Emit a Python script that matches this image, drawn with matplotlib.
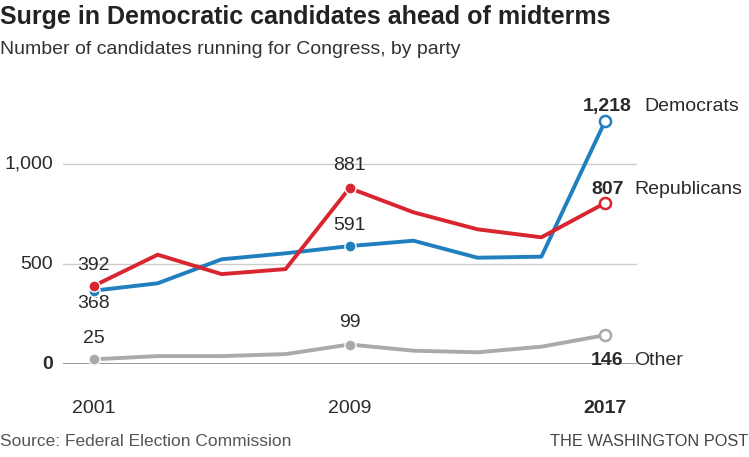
import matplotlib.pyplot as plt
import numpy as np

### DONNEES
years = [2001, 2003, 2005, 2007, 2009, 2011, 2013, 2015, 2017]
democrats = [368, 405, 525, 555, 591, 618, 533, 538, 1218]
republicans = [392, 548, 451, 476, 881, 760, 675, 635, 807]
other = [25, 41, 41, 51, 99, 68, 60, 88, 146]
y_ticks = [0, 500, 1000]
y_tick_labels = ["0", "500", "1,000"]
x_ticks = [2001, 2009, 2017]

blue = "#1f7fbf"
red = "#d9252f"
grey = "#aaaaaa"
txt = "#2a2a2a"

plt.rcParams['font.family'] = ['Liberation Sans', 'DejaVu Sans']

W, H = 749, 457
fig = plt.figure(figsize=(W / 100, H / 100), dpi=100)

def fx(px):
    return px / W

def fy(py):
    return 1 - py / H

# axes: gauche 63 px, droite 637 px, zero a 364 px, haut a 100 px
ax = fig.add_axes([fx(63), fy(364.3), fx(637 - 63), fy(100) - fy(364.3)])
ax.set_xlim(2000.04, 2017.99)
ax.set_ylim(0, (364.3 - 100) / 0.2)
ax.axis('off')

# grille
for v in y_ticks[1:]:
    ax.axhline(v, color="#cccccc", lw=1, zorder=0)
ax.axhline(0, color="#888888", lw=1.2, zorder=0)

for v, lab in zip(y_ticks, y_tick_labels):
    ax.annotate(lab, (2000.04, v), xytext=(-7, 0), textcoords='offset points',
                ha='right', va='center', fontsize=14, color=txt,
                fontweight='bold' if v == 0 else 'normal', annotation_clip=False)

for yr in x_ticks:
    ax.annotate(str(yr), (yr, 0), xytext=(0, -32), textcoords='offset points',
                ha='center', va='center', fontsize=14, color=txt,
                fontweight='bold' if yr == 2017 else 'normal', annotation_clip=False)

# courbes
lw = 2.8
for vals, col, z in [(other, grey, 2), (democrats, blue, 3), (republicans, red, 4)]:
    ax.plot(years, vals, color=col, lw=lw, zorder=z, solid_capstyle='round', clip_on=False)
    for i in [0, 4]:
        ax.plot(years[i], vals[i], 'o', ms=8, color=col, mec='white', mew=1, zorder=z + 0.5, clip_on=False)
    ax.plot(years[-1], vals[-1], 'o', ms=8, mfc='white', mec=col, mew=1.8, zorder=z + 0.5, clip_on=False)

def lab(x, y, s, dy, **kw):
    ax.annotate(s, (x, y), xytext=(0, dy), textcoords='offset points', ha='center',
                va='center', fontsize=14, color=txt, annotation_clip=False, **kw)

lab(years[0], republicans[0], "392", 15)
lab(years[0], democrats[0], "368", -9)
lab(years[4], republicans[4], "881", 16)
lab(years[4], democrats[4], "591", 15)
lab(years[0], other[0], "25", 15)
lab(years[4], other[4], "99", 16)

# etiquettes de fin
def end_lab(val, y, name, x_num, x_name):
    ax.annotate(val, (years[-1], y), xycoords='data', xytext=(x_num, 0), textcoords='offset points',
                ha='right', va='center', fontsize=14, fontweight='bold', color=txt, annotation_clip=False)
    ax.annotate(name, (years[-1], y), xycoords='data', xytext=(x_name, 0), textcoords='offset points',
                ha='left', va='center', fontsize=14, color=txt, annotation_clip=False)

end_lab(f"{democrats[-1]:,}", democrats[-1] + 70, "Democrats", 19, 28)
end_lab(str(republicans[-1]), republicans[-1] + 68, "Republicans", 13, 21)
end_lab(str(other[-1]), other[-1] - 128, "Other", 13, 21)

# titres
fig.text(fx(0), fy(17), "Surge in Democratic candidates ahead of midterms", fontsize=18,
         fontweight='bold', color="#222222", va='center', ha='left')
fig.text(fx(0), fy(50), "Number of candidates running for Congress, by party", fontsize=14,
         color="#333333", va='center', ha='left')
fig.text(fx(0), fy(442), "Source: Federal Election Commission", fontsize=12.5,
         color="#555555", va='center', ha='left')
fig.text(fx(748), fy(442), "THE WASHINGTON POST", fontsize=11.8,
         color="#444444", va='center', ha='right')

fig.savefig("out.png", dpi=100)
